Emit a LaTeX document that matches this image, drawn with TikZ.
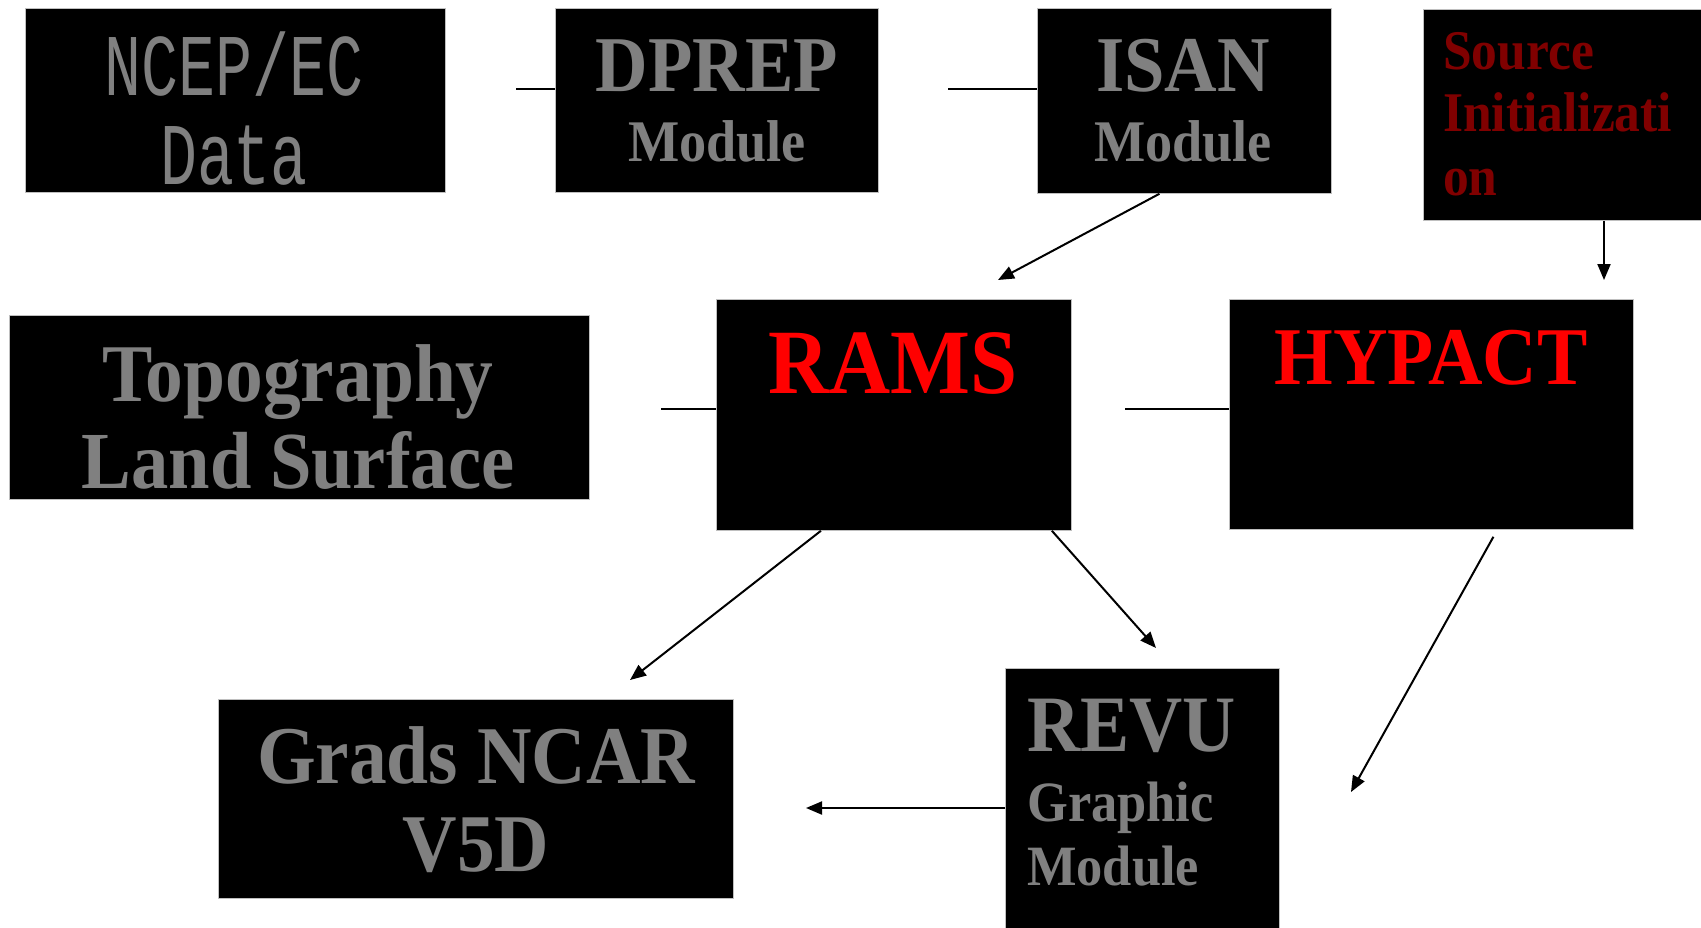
\documentclass[tikz,border=0pt]{standalone}
\usepackage{fontspec}
\setmainfont{Liberation Serif}
\newfontfamily\boxserif[FakeStretch=0.92]{Liberation Serif}
\newfontfamily\boxmono[FakeStretch=0.7]{Liberation Mono}
\usepackage{tikz}
\usetikzlibrary{arrows.meta}
\definecolor{boxgray}{RGB}{128,128,128}
\definecolor{srcred}{RGB}{128,0,0}
\newcommand\fsz[1]{\fontsize{#1}{#1}\selectfont}

\begin{document}
\begin{tikzpicture}[x=1pt, y=-1pt,
    box/.style={fill=black, draw=gray!50, line width=0.8pt, anchor=north west, inner sep=0pt},
    txt/.style={text=boxgray, anchor=base, inner sep=0pt},
    link/.style={line width=2pt},
    flow/.style={line width=2pt, -{Triangle[length=16pt,width=13pt]}}]
        \useasboundingbox (0,0) rectangle (1701,927);

        \node[box, minimum width=420pt, minimum height=184pt] (ncep) at (25,8) {};
        \node[box, minimum width=323pt, minimum height=184pt] (dprep) at (555,8) {};
        \node[box, minimum width=294pt, minimum height=185pt] (isan) at (1037,8) {};
        \node[box, minimum width=290pt, minimum height=211pt] (src) at (1423,9) {};
        \node[box, minimum width=580pt, minimum height=184pt] (topo) at (9,315) {};
        \node[box, minimum width=355pt, minimum height=231pt] (rams) at (716,299) {};
        \node[box, minimum width=404pt, minimum height=230pt] (hypact) at (1229,299) {};
        \node[box, minimum width=515pt, minimum height=199pt] (grads) at (218,699) {};
        \node[box, minimum width=274pt, minimum height=262pt] (revu) at (1005,668) {};

        \node[txt, font=\boxmono\fsz{88}] (ncep1) at (234,95) {NCEP/EC};
        \node[txt, font=\boxmono\fsz{88}] (ncep2) at (234,184) {Data};
        \node[txt, font=\boxserif\bfseries\fsz{79}] (dprep1) at (717,91) {DPREP};
        \node[txt, font=\boxserif\bfseries\fsz{59}] (dprep2) at (717,161) {Module};
        \node[txt, font=\boxserif\bfseries\fsz{79}] (isan1) at (1183,91) {ISAN};
        \node[txt, font=\boxserif\bfseries\fsz{59}] (isan2) at (1183,161) {Module};
        \node[txt, anchor=base west, text=srcred, font=\boxserif\bfseries\fsz{56}] (src1) at (1443,69) {Source};
        \node[txt, anchor=base west, text=srcred, font=\boxserif\bfseries\fsz{56}] (src2) at (1443,131) {Initializati};
        \node[txt, anchor=base west, text=srcred, font=\boxserif\bfseries\fsz{56}] (src3) at (1443,195) {on};
        \node[txt, font=\boxserif\bfseries\fsz{82}] (topo1) at (298,401) {Topography};
        \node[txt, font=\boxserif\bfseries\fsz{81}] (topo2) at (298,488) {Land Surface};
        \node[txt, text=red, font=\boxserif\bfseries\fsz{92}] (rams1) at (893,393) {RAMS};
        \node[txt, text=red, font=\boxserif\bfseries\fsz{82}] (hypact1) at (1431,384) {HYPACT};
        \node[txt, font=\boxserif\bfseries\fsz{82}] (grads1) at (476,783) {Grads NCAR};
        \node[txt, font=\boxserif\bfseries\fsz{82}] (grads2) at (476,871) {V5D};
        \node[txt, anchor=base west, font=\boxserif\bfseries\fsz{80}] (revu1) at (1027,751) {REVU};
        \node[txt, anchor=base west, font=\boxserif\bfseries\fsz{57}] (revu2) at (1027,821) {Graphic};
        \node[txt, anchor=base west, font=\boxserif\bfseries\fsz{57}] (revu3) at (1027,885) {Module};

        \coordinate (c1) at (516,89);
        \coordinate (c2) at (948,89);
        \coordinate (c3) at (661,409);
        \coordinate (c4) at (1125,409);
        \coordinate (t1) at (998,280);
        \coordinate (t2) at (1604,280);
        \coordinate (t3) at (630,680);
        \coordinate (t4) at (1156,648);
        \coordinate (t5) at (1351,792);
        \coordinate (t6) at (806,808);

        \draw[link] (c1) -- (c1 -| dprep.west);
        \draw[link] (c2) -- (c2 -| isan.west);
        \draw[link] (c3) -- (c3 -| rams.west);
        \draw[link] (c4) -- (c4 -| hypact.west);

        \draw[flow] (isan.south) ++(-25,0) -- (t1);
        \draw[flow] (t2 |- src.south) -- (t2);
        \draw[flow] (rams.south) ++(-73,0) -- (t3);
        \draw[flow] (rams.south) ++(158,0) -- (t4);
        \draw[flow] (hypact.south) ++(62,7) -- (t5);
        \draw[flow] (t6 -| revu.west) -- (t6);
    \end{tikzpicture}
\end{document}
